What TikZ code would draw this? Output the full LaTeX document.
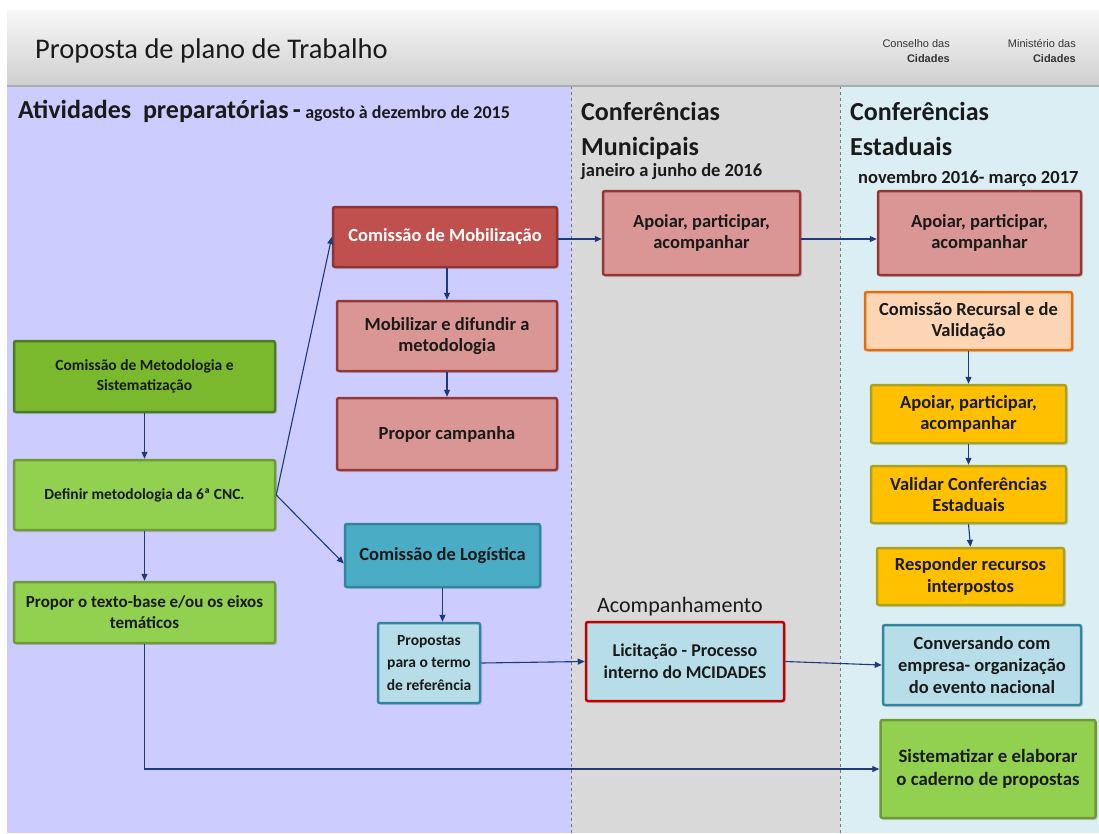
\documentclass[tikz,border=0pt]{standalone}
\usepackage{fontspec}
\setmainfont{Carlito}
\newfontfamily\hdrfont{Liberation Sans}
\usetikzlibrary{arrows.meta,calc,shadows}
\definecolor{bgpurple}{HTML}{CCCCFF}
\definecolor{bggray}{HTML}{D9D9D9}
\definecolor{bgblue}{HTML}{DBEEF4}
\definecolor{mobfill}{HTML}{C0504D}
\definecolor{mobdraw}{HTML}{8E3432}
\definecolor{pinkfill}{HTML}{D99694}
\definecolor{pinkdraw}{HTML}{953735}
\definecolor{dgfill}{HTML}{7AB92E}
\definecolor{dgdraw}{HTML}{4F7A22}
\definecolor{lgfill}{HTML}{92D050}
\definecolor{lgdraw}{HTML}{6F9A34}
\definecolor{tealfill}{HTML}{4BACC6}
\definecolor{tealdraw}{HTML}{31859C}
\definecolor{pbfill}{HTML}{B7DEE8}
\definecolor{peachfill}{HTML}{FCD5B4}
\definecolor{peachdraw}{HTML}{E46C0A}
\definecolor{yelfill}{HTML}{FFC000}
\definecolor{yeldraw}{HTML}{A8A21C}
\definecolor{redraw}{HTML}{C00000}
\definecolor{arrowc}{HTML}{1F3A7A}
\definecolor{txtc}{HTML}{1A1A1A}
\definecolor{dashc}{HTML}{6B7B8C}
\tikzset{
  box/.style={draw, line width=2.5pt, rounded corners=2pt, align=center,
    inner sep=0pt, text=txtc, font=\bfseries\fontsize{18.5}{21.5}\selectfont,
    drop shadow={opacity=0.25, shadow xshift=2pt, shadow yshift=-2pt}},
  smallbox/.style={box, font=\bfseries\fontsize{15.5}{20}\selectfont},
  conn/.style={draw=arrowc, line width=1.1pt, -{Triangle[length=7pt,width=6pt]}},
  colhead/.style={anchor=base west, inner sep=0pt, font=\bfseries\fontsize{26}{35}\selectfont, text=txtc, align=left},
  datetxt/.style={anchor=base west, inner sep=0pt, font=\bfseries\fontsize{18.5}{22}\selectfont, text=txtc},
  sep/.style={draw=dashc, dashed, line width=0.7pt}
}
\begin{document}
\begin{tikzpicture}[x=1pt,y=-1pt]
\useasboundingbox (0,0) rectangle (1099,833);
\fill[white] (0,0) rectangle (1099,833);
% columns
\fill[bgpurple] (7,86) rectangle (571,833);
\fill[bggray] (571,86) rectangle (840,833);
\fill[bgblue] (840,86) rectangle (1099,833);
\draw[sep] (571,86) -- (571,833);
\draw[sep] (840,86) -- (840,833);
% header
\shade[top color=gray!6, bottom color=gray!38] (7,10) rectangle (1099,86);
\draw[gray!65, line width=1.2pt] (7,86) -- (1099,86);
\node[anchor=base west, inner sep=0pt, font=\fontsize{28.5}{31}\selectfont, text=txtc] (title) at (35,58) {Proposta de plano de Trabalho};
\node[anchor=base east, inner sep=0pt, font=\hdrfont\fontsize{11}{14}\selectfont, text=black!80] (cons) at (950,47) {Conselho das};
\node[anchor=base east, inner sep=0pt, font=\hdrfont\bfseries\fontsize{11}{14}\selectfont, text=black!80] (consb) at (950,62) {Cidades};
\node[anchor=base east, inner sep=0pt, font=\hdrfont\fontsize{11}{14}\selectfont, text=black!80] (mini) at (1076,47) {Ministério das};
\node[anchor=base east, inner sep=0pt, font=\hdrfont\bfseries\fontsize{11}{14}\selectfont, text=black!80] (minib) at (1076,62) {Cidades};
% column headings
\node[colhead] (h1) at (18,118) {Atividades\ \ preparatórias\,-\,{\fontsize{18}{22}\selectfont agosto à dezembro de 2015}};
\node[colhead] (h2) at (581,120) {Conferências};
\node[colhead] (h2b) at (581,155) {Municipais};
\node[datetxt] (d2) at (581,176) {janeiro a junho de 2016};
\node[colhead] (h3) at (850,120) {Conferências};
\node[colhead] (h3b) at (850,155) {Estaduais};
\node[datetxt] (d3) at (858,183) {novembro 2016- março 2017};
\node[anchor=base west, inner sep=0pt, font=\fontsize{22}{25}\selectfont, text=txtc] (acomp) at (597,612) {Acompanhamento};
% left column boxes
\node[smallbox, fill=dgfill, draw=dgdraw, minimum width=261pt, minimum height=71pt] (metod) at (144.5,376.5) {Comissão de Metodologia e\\Sistematização};
\node[smallbox, fill=lgfill, draw=lgdraw, minimum width=261pt, minimum height=70pt] (defin) at (144.5,495) {Definir metodologia da 6ª CNC.};
\node[smallbox, fill=lgfill, draw=lgdraw, minimum width=261pt, minimum height=61pt, font=\bfseries\fontsize{17}{21}\selectfont] (texto) at (144.5,612.5) {Propor o texto-base e/ou os eixos\\temáticos};
% middle-left boxes
\node[box, fill=mobfill, draw=mobdraw, text=white, minimum width=224pt, minimum height=60pt] (mob) at (445,237) {Comissão de Mobilização};
\node[box, fill=pinkfill, draw=pinkdraw, minimum width=220pt, minimum height=70pt] (difu) at (447,336) {Mobilizar e difundir a\\metodologia};
\node[box, fill=pinkfill, draw=pinkdraw, minimum width=220pt, minimum height=72pt] (camp) at (447,434) {Propor campanha};
\node[box, fill=tealfill, draw=tealdraw, minimum width=195pt, minimum height=63pt] (logis) at (442.5,555.5) {Comissão de Logística};
\node[smallbox, fill=pbfill, draw=tealdraw, minimum width=102pt, minimum height=80pt, font=\bfseries\fontsize{15.5}{22.5}\selectfont] (propt) at (429,663) {Propostas\\para o termo\\de referência};
% municipal column
\node[box, fill=pinkfill, draw=pinkdraw, minimum width=197pt, minimum height=84pt] (apm) at (701.5,233) {Apoiar, participar,\\acompanhar};
\node[box, fill=pbfill, draw=redraw, minimum width=198pt, minimum height=79pt, font=\bfseries\fontsize{18}{22}\selectfont] (lic) at (685,661.5) {Licitação - Processo\\interno do MCIDADES};
% state column
\node[box, fill=pinkfill, draw=pinkdraw, minimum width=203pt, minimum height=84pt] (ape) at (979.5,233) {Apoiar, participar,\\acompanhar};
\node[box, fill=peachfill, draw=peachdraw, minimum width=207pt, minimum height=58pt] (recur) at (968.5,321) {Comissão Recursal e de\\Validação};
\node[box, fill=yelfill, draw=yeldraw, minimum width=195pt, minimum height=58pt] (apy) at (968.5,414) {Apoiar, participar,\\acompanhar};
\node[box, fill=yelfill, draw=yeldraw, minimum width=195pt, minimum height=57pt] (vali) at (968.5,494.5) {Validar Conferências\\Estaduais};
\node[box, fill=yelfill, draw=yeldraw, minimum width=187pt, minimum height=57pt] (resp) at (970.5,576.5) {Responder recursos\\interpostos};
\node[box, fill=pbfill, draw=tealdraw, minimum width=198pt, minimum height=80pt, font=\bfseries\fontsize{18.5}{21.7}\selectfont] (conv) at (982,665) {Conversando com\\empresa- organização\\do evento nacional};
\node[box, fill=lgfill, draw=lgdraw, minimum width=215pt, minimum height=98pt, font=\bfseries\fontsize{18.8}{22.5}\selectfont] (sist) at (988,769) {Sistematizar e elaborar\\o caderno de propostas};
% connectors
\draw[conn] (metod.south) -- (defin.north);
\draw[conn] (defin.south) -- (texto.north);
\draw[conn] (defin.east) -- (mob.west);
\draw[conn] (defin.east) -- ([yshift=-8pt]logis.west);
\draw[conn] (mob.south -| difu.north) -- (difu.north);
\draw[conn] (difu.south) -- (camp.north);
\draw[conn] (logis.south) -- (logis.south |- propt.north);
\draw[conn] (propt.east) -- (lic.west);
\draw[conn] (lic.east) -- (conv.west);
\draw[conn] ([yshift=-2pt]mob.east) -- ([yshift=-2pt]mob.east -| apm.west);
\draw[conn] ([yshift=-2pt]mob.east -| apm.east) -- ([yshift=-2pt]mob.east -| ape.west);
\draw[conn] (recur.south) -- (apy.north);
\draw[conn] (apy.south) -- (vali.north);
\draw[conn] (vali.south) -- (resp.north);
\draw[conn] (texto.south) |- (sist.west);
\end{tikzpicture}
\end{document}
